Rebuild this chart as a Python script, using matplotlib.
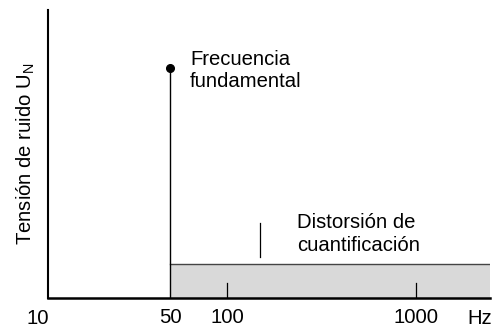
import numpy as np
import matplotlib
matplotlib.use("Agg")
import matplotlib.pyplot as plt

plt.rcParams['font.family'] = ['Liberation Sans', 'DejaVu Sans']
plt.rcParams['mathtext.fontset'] = 'custom'
plt.rcParams['mathtext.rm'] = 'Liberation Sans'

# frequencies (Hz) and relative noise levels
tick_freqs = [50, 100, 1000]
tick_labels = ['50', '100', '1000']
f_fund = 50
u_fund = 0.80
f_band_start = 50
u_band = 0.118
f_dist_mark = 150
dist_mark = [0.142, 0.26]
small_ticks = [100, 1000]
small_tick_h = 0.052

W, H = 496, 332
fig = plt.figure(figsize=(W / 100, H / 100), dpi=100)
# axes box in pixels of the reference: x 48..490, y 10..298
ax = fig.add_axes([48 / W, 1 - 298 / H, 442 / W, 288 / H])

xmin = 10 ** (1 + 10 / 189)
xmax = 10 ** (1 + 452 / 189)
ax.set_xscale('log')
ax.set_xlim(xmin, xmax)
ax.set_ylim(0, 1)

# gray band = quantisation distortion floor
ax.fill_between([f_band_start, xmax], 0, u_band, color='#d9d9d9', lw=0, zorder=1)
ax.plot([f_band_start, xmax], [u_band, u_band], color='#444444', lw=1, zorder=2)

# fundamental
ax.plot([f_fund, f_fund], [0, u_fund], color='black', lw=1, zorder=3)
ax.plot(f_fund, u_fund, 'o', color='black', ms=5.5, zorder=4)

# little marks
ax.plot([f_dist_mark, f_dist_mark], dist_mark, color='black', lw=0.9)
for f in small_ticks:
    ax.plot([f, f], [0, small_tick_h], color='black', lw=0.9)

for s in ['top', 'right']:
    ax.spines[s].set_visible(False)
ax.spines['left'].set_linewidth(1.5)
ax.spines['bottom'].set_linewidth(1.8)
ax.set_yticks([])
ax.minorticks_off()
ax.set_xticks(tick_freqs)
ax.set_xticklabels(tick_labels)
ax.tick_params(axis='x', length=0, pad=7.5, labelsize=14.6)
ax.xaxis.set_minor_locator(matplotlib.ticker.NullLocator())

fs = 14.6
fig.text(38 / W, 1 - 318 / H, '10', ha='center', va='center', fontsize=fs)
fig.text(480 / W, 1 - 318 / H, 'Hz', ha='center', va='center', fontsize=fs)

fig.text(190 / W, 1 - 65 / H, 'Frecuencia', ha='left', va='baseline', fontsize=fs)
fig.text(190 / W, 1 - 87 / H, 'fundamental', ha='left', va='baseline', fontsize=fs)
fig.text(297 / W, 1 - 228 / H, 'Distorsión de', ha='left', va='baseline', fontsize=fs)
fig.text(297 / W, 1 - 251 / H, 'cuantificación', ha='left', va='baseline', fontsize=fs)

fig.text(37 / W, 1 - 154 / H, 'Tensión de ruido U$_\\mathrm{N}$', rotation=90,
         ha='right', va='center', fontsize=fs)

fig.savefig('out.png', dpi=100)
